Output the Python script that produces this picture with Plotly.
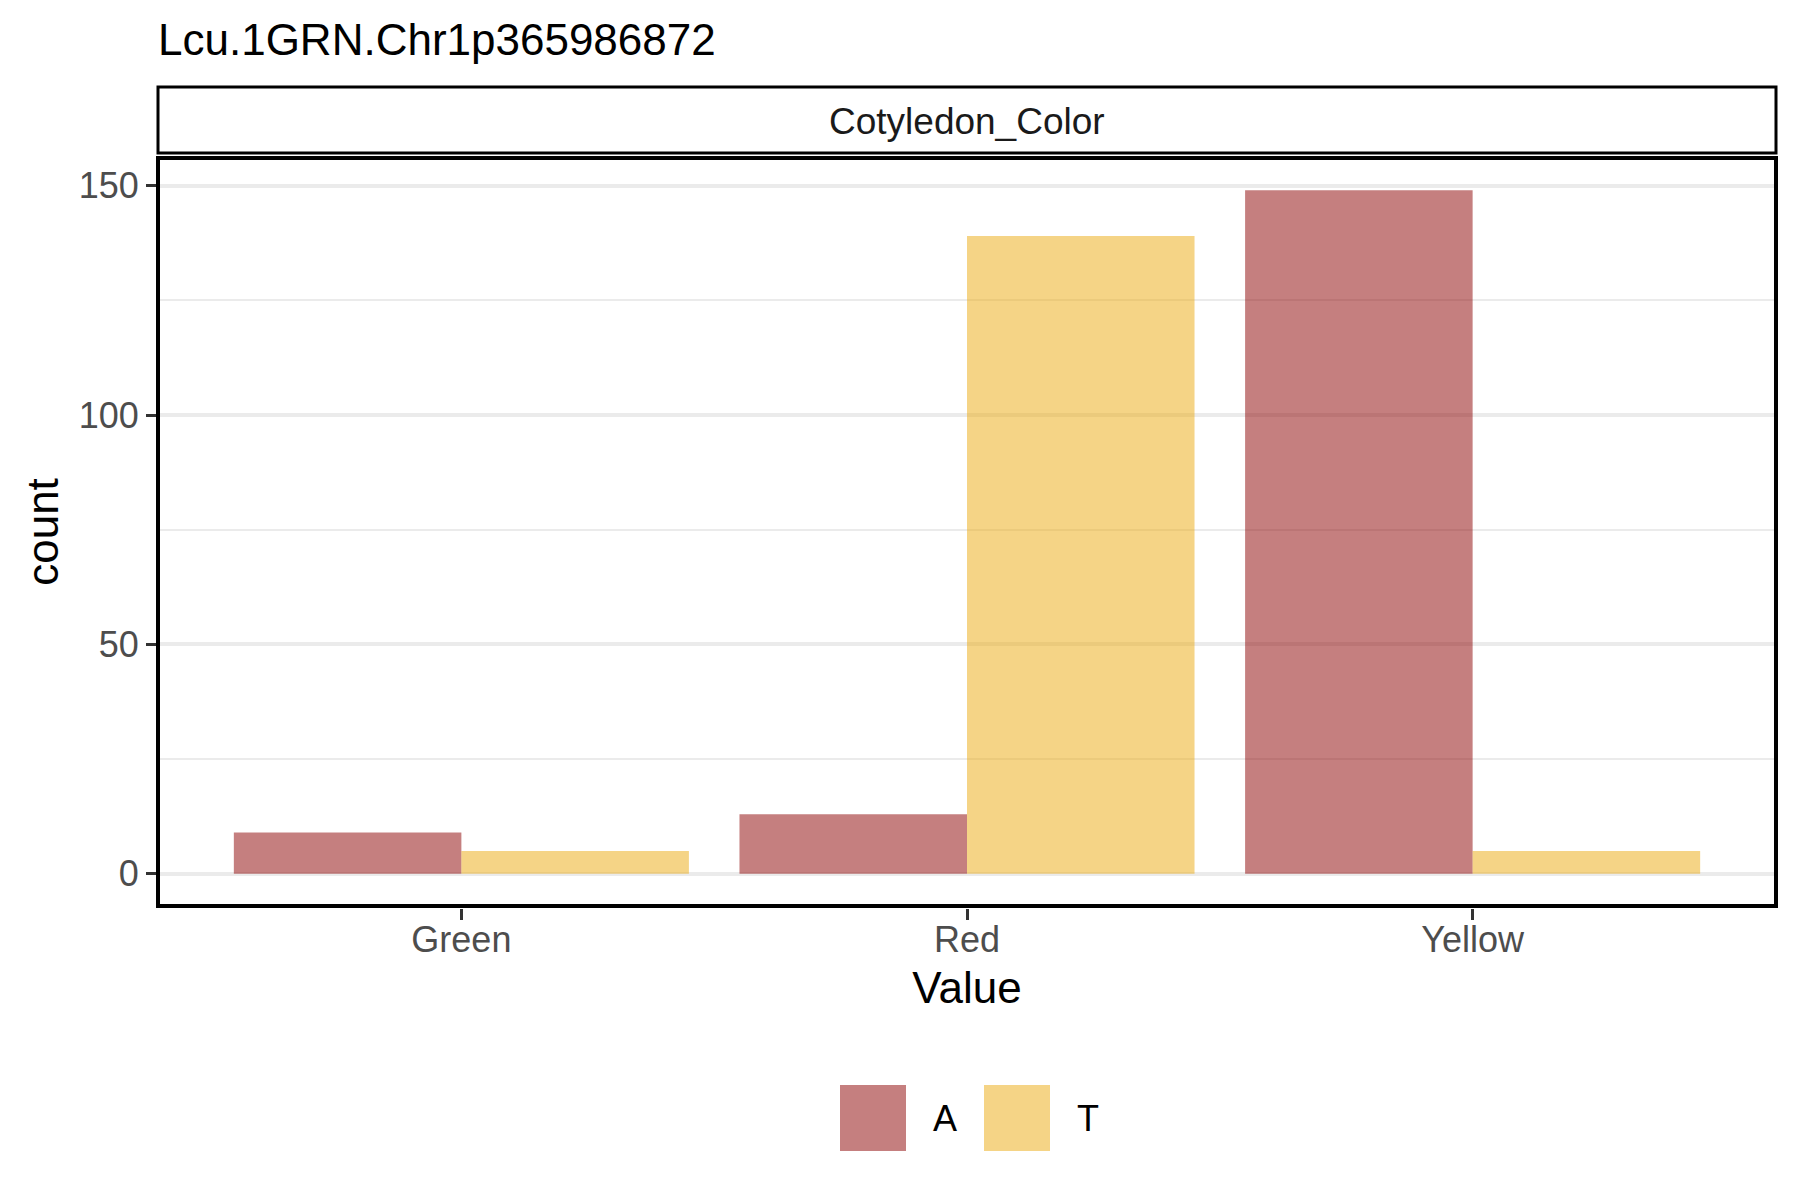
import plotly.graph_objects as go

# counts per allele for each cotyledon colour
categories = ["Green", "Red", "Yellow"]
allele_a = [9, 13, 149]
allele_t = [5, 139, 5]
alleles = ["A", "T"]
colors = {"A": "rgba(139, 0, 0, 0.5)", "T": "rgba(235, 170, 14, 0.5)"}

y_ticks = [0, 50, 100, 150]
y_minor = [25, 75, 125]

FONT = "Liberation Sans, Arial, sans-serif"

# the page body adds an 8px margin, so shift everything up/left by it
OFF = 8
W, H = 1800, 1200
# panel edges as seen on screen
PX0, PX1, PY0, PY1 = 158, 1776, 156, 908
L, R, T, B = PX0 - OFF, W - PX1 + OFF, PY0 - OFF, H - PY1 + OFF
PW, PH = PX1 - PX0, PY1 - PY0


def px_x(px):
    return (px - PX0) / PW


def px_y(py):
    return (PY1 - py) / PH


fig = go.Figure()
for name, vals in zip(alleles, [allele_a, allele_t]):
    fig.add_trace(go.Bar(x=categories, y=vals, name=name,
                         marker=dict(color=colors[name], line=dict(width=0)),
                         showlegend=False))

# panel border
fig.add_shape(type="rect", xref="paper", yref="paper",
              x0=0, x1=1, y0=px_y(906), y1=px_y(158),
              line=dict(color="black", width=4), fillcolor="rgba(0,0,0,0)")

# facet strip on top of the panel
fig.add_shape(type="rect", xref="paper", yref="paper",
              x0=0, x1=1, y0=px_y(153), y1=px_y(87),
              line=dict(color="black", width=3), fillcolor="white")
fig.add_annotation(text="Cotyledon_Color", xref="paper", yref="paper",
                   x=0.5, y=px_y(121), showarrow=False, yanchor="middle",
                   font=dict(family=FONT, size=37, color="#1A1A1A"))

# legend drawn as keys + labels under the plot
key_left = {"A": 840, "T": 984}
for name in alleles:
    x0 = key_left[name]
    fig.add_shape(type="rect", xref="paper", yref="paper",
                  x0=px_x(x0), x1=px_x(x0 + 66), y0=px_y(1151), y1=px_y(1085),
                  line=dict(width=0), fillcolor=colors[name])
    fig.add_annotation(text=name, xref="paper", yref="paper",
                       x=px_x(x0 + 91), y=px_y(1118), showarrow=False,
                       xanchor="left", yanchor="middle",
                       font=dict(family=FONT, size=36, color="black"))

fig.update_layout(
    template="none",
    width=W, height=H,
    margin=dict(l=L, r=R, t=T, b=B),
    paper_bgcolor="white", plot_bgcolor="white",
    barmode="group", bargap=0.1, bargroupgap=0,
    showlegend=False,
    font=dict(family=FONT),
    title=dict(text="Lcu.1GRN.Chr1p365986872", x=0, xref="paper", xanchor="left",
               y=1 - (40 - OFF) / H, yref="container", yanchor="middle",
               font=dict(family=FONT, size=44, color="black")),
)

fig.update_xaxes(
    type="category", range=[-0.6, 2.6], showgrid=False, zeroline=False,
    showline=False,
    ticks="outside", ticklen=11, tickwidth=3, tickcolor="#333333",
    ticklabelstandoff=-11,
    tickfont=dict(family=FONT, size=36, color="#4D4D4D"),
    title=dict(text="Value", standoff=12, font=dict(family=FONT, size=44, color="black")),
    automargin=False,
)
fig.update_yaxes(
    range=[-7.45, 156.45], tickmode="array", tickvals=y_ticks,
    showgrid=True, gridcolor="#EBEBEB", gridwidth=4, zeroline=False,
    minor=dict(tickmode="array", tickvals=y_minor, showgrid=True,
               gridcolor="#EBEBEB", gridwidth=2, ticks=""),
    showline=False,
    ticks="outside", ticklen=11, tickwidth=3, tickcolor="#333333",
    tickfont=dict(family=FONT, size=36, color="#4D4D4D"),
    title=dict(text="count", standoff=6, font=dict(family=FONT, size=44, color="black")),
    automargin=False,
)

fig.write_html("out.html")
